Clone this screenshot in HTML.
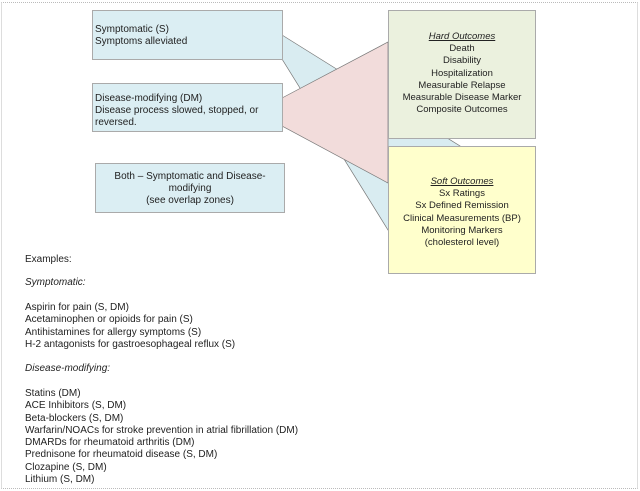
<!DOCTYPE html>
<html><head><style>
body{margin:0;width:640px;height:491px;background:#fff;position:relative;overflow:hidden;font-family:"Liberation Sans",Arial,sans-serif;color:#222;}
.frame{position:absolute;left:1px;top:2px;width:635px;height:485px;border-left:1px solid #ddd;border-right:1px solid #ddd;border-top:1px dotted #bbb;border-bottom:1px dotted #bbb;}
.t{position:absolute;font-size:10px;line-height:12.3px;white-space:nowrap;}
.box{position:absolute;font-size:10px;line-height:12.2px;box-sizing:border-box;white-space:nowrap;}
.r{font-size:9.5px;}
</style></head><body>
<div class="frame"></div>
<svg width="640" height="491" style="position:absolute;left:0;top:0">
<polygon points="282,35 460,146 388,230 282,59" fill="#d9ecf1" stroke="#777" stroke-width="0.7"/>
<polygon points="282,98 388,42 388,183 282,126" fill="#f2dcdb" stroke="#777" stroke-width="0.7"/>
<rect x="92.5" y="10.5" width="190" height="49" fill="#dbeef3" stroke="#aaa"/>
<rect x="92.5" y="83.5" width="190" height="48" fill="#dbeef3" stroke="#aaa"/>
<rect x="95.5" y="163.5" width="189" height="49" fill="#dbeef3" stroke="#aaa"/>
<rect x="388.5" y="10.5" width="147" height="128" fill="#ebf1de" stroke="#aaa"/>
<rect x="388.5" y="146.5" width="147" height="127" fill="#ffffcc" stroke="#aaa"/>
</svg>
<div class="box" style="left:95px;top:24px">Symptomatic (S)<br>Symptoms alleviated</div>
<div class="box" style="left:95px;top:93px">Disease-modifying (DM)<br>Disease process slowed, stopped, or<br>reversed.</div>
<div class="box" style="left:95px;top:171px;width:190px;text-align:center">Both – Symptomatic and Disease-<br>modifying<br>(see overlap zones)</div>
<div class="box r" style="left:388px;top:31px;width:148px;text-align:center"><i><u>Hard Outcomes</u></i><br>Death<br>Disability<br>Hospitalization<br>Measurable Relapse<br>Measurable Disease Marker<br>Composite Outcomes</div>
<div class="box r" style="left:388px;top:176px;width:148px;text-align:center"><i><u>Soft Outcomes</u></i><br>Sx Ratings<br>Sx Defined Remission<br>Clinical Measurements (BP)<br>Monitoring Markers<br>(cholesterol level)</div>
<div class="t" style="left:25px;top:254px">Examples:</div>
<div class="t" style="left:25px;top:277px"><i>Symptomatic:</i></div>
<div class="t" style="left:25px;top:302px">Aspirin for pain (S, DM)<br>Acetaminophen or opioids for pain (S)<br>Antihistamines for allergy symptoms (S)<br>H-2 antagonists for gastroesophageal reflux (S)</div>
<div class="t" style="left:25px;top:363px"><i>Disease-modifying:</i></div>
<div class="t" style="left:25px;top:388px">Statins (DM)<br>ACE Inhibitors (S, DM)<br>Beta-blockers (S, DM)<br>Warfarin/NOACs for stroke prevention in atrial fibrillation (DM)<br>DMARDs for rheumatoid arthritis (DM)<br>Prednisone for rheumatoid disease (S, DM)<br>Clozapine (S, DM)<br>Lithium (S, DM)</div>
</body></html>
